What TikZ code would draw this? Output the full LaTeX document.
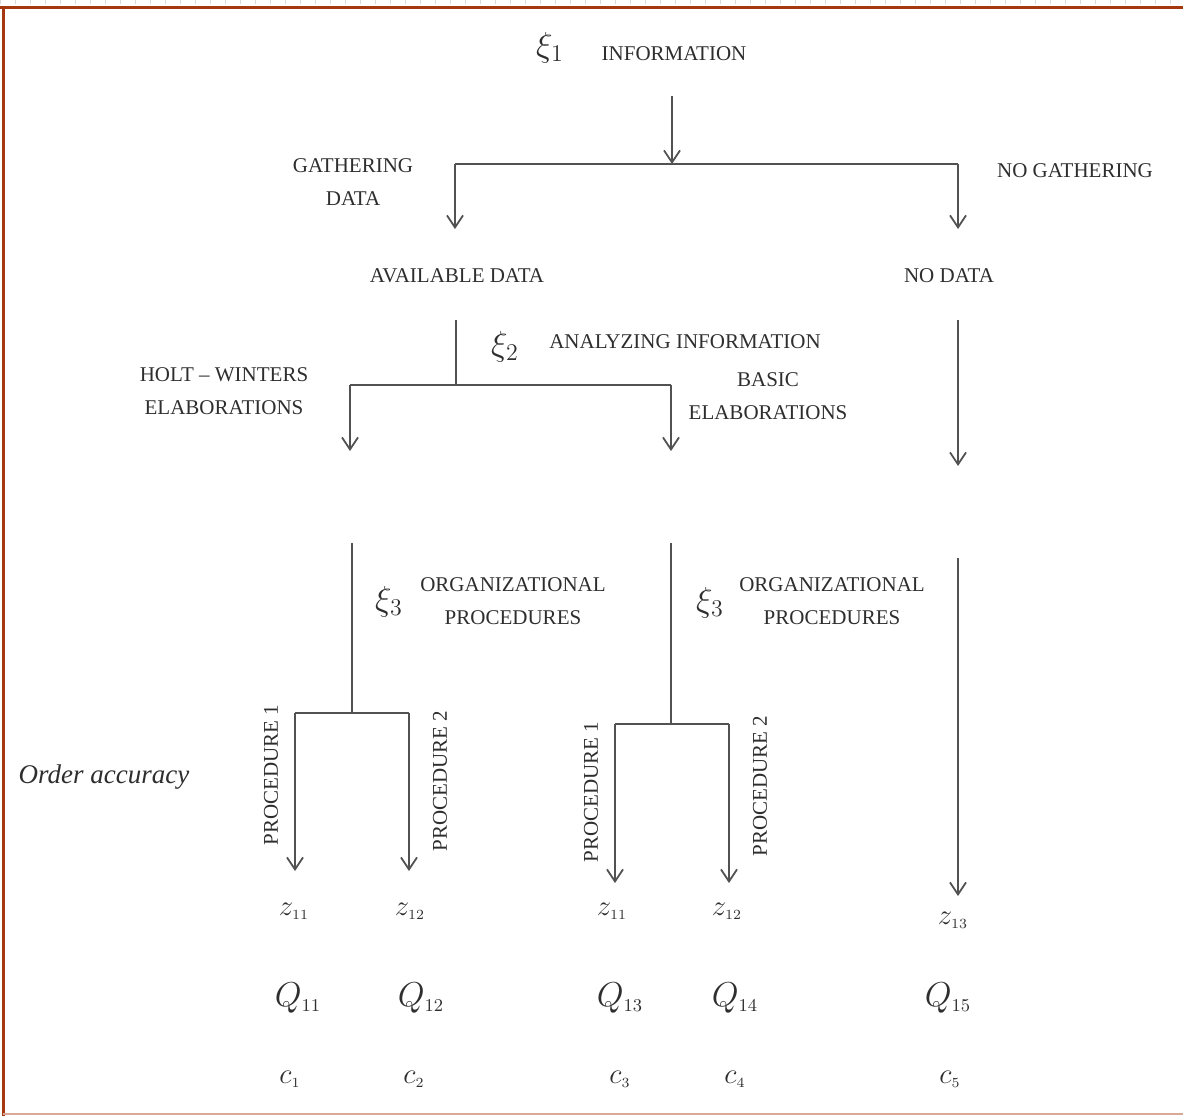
\documentclass[tikz,border=0pt]{standalone}
\usepackage{fontspec}
\setmainfont{Liberation Serif}
\usetikzlibrary{arrows.meta}
\definecolor{framecol}{HTML}{A5380F}
\definecolor{framelight}{HTML}{D9A896}
\begin{document}
\begin{tikzpicture}[x=0.5pt,y=-0.5pt,
  conn/.style={draw=black!68, line width=1pt},
  arr/.style={conn, -{Straight Barb[length=6pt,width=8pt,line width=0.9pt]}},
  lbl/.style={font=\fontsize{10.5}{16.5}\selectfont, text=black!82, align=center, inner sep=0pt},
  xilbl/.style={font=\fontsize{17}{18}\selectfont, text=black!82, inner sep=0pt},
  rotlbl/.style={lbl, rotate=90},
  zlbl/.style={font=\fontsize{15}{16}\selectfont, text=black!82, inner sep=0pt},
  qlbl/.style={font=\fontsize{19}{20}\selectfont, text=black!82, inner sep=0pt},
  clbl/.style={font=\fontsize{15}{16}\selectfont, text=black!82, inner sep=0pt},
  frame/.style={draw=framecol, line width=1.5pt}
]
\useasboundingbox (0,0) rectangle (1183,1116);
% frame
\foreach \i in {0,15,...,1183} \draw[black!15, line width=0.5pt] (\i,0) -- (\i,4);
\draw[frame] (0,7) -- (1183,7);
\draw[frame] (3,7) -- (3,1116);
\draw[draw=framelight, line width=1pt] (3,1114) -- (1183,1114);

% top
\node[xilbl] (xi1) at (550,48) {$\xi_1$};
\node[lbl] (info) at (674,54) {INFORMATION};
\coordinate (i0) at (672,96);
\coordinate (j1) at (672,164);
\coordinate (j1l) at (455,164);
\coordinate (j1r) at (958,164);
\coordinate (t1l) at (455,229);
\coordinate (t1r) at (958,229);
\draw[arr] (i0) -- (j1);
\draw[conn] (j1l) -- (j1r);
\draw[arr] (j1l) -- (t1l);
\draw[arr] (j1r) -- (t1r);
\node[lbl] (gather) at (353,182) {GATHERING\\DATA};
\node[lbl] (nogather) at (1075,171) {NO GATHERING};

\node[lbl] (avail) at (457,276) {AVAILABLE DATA};
\node[lbl] (nodata) at (949,276) {NO DATA};

% second level
\coordinate (a0) at (456,320);
\coordinate (j2) at (456,385);
\coordinate (j2l) at (350,385);
\coordinate (j2r) at (671,385);
\coordinate (t2l) at (350,451);
\coordinate (t2r) at (671,451);
\draw[conn] (a0) -- (j2);
\draw[conn] (j2l) -- (j2r);
\draw[arr] (j2l) -- (t2l);
\draw[arr] (j2r) -- (t2r);
\node[xilbl] (xi2) at (505,347) {$\xi_2$};
\node[lbl] (analyz) at (685,342) {ANALYZING INFORMATION};
\node[lbl] (holt) at (224,391) {HOLT -- WINTERS\\ELABORATIONS};
\node[lbl] (basic) at (768,396) {BASIC\\ELABORATIONS};

% no data branch
\coordinate (n0) at (958,320);
\coordinate (n1) at (958,466);
\draw[arr] (n0) -- (n1);

% left sub-tree
\coordinate (l0) at (352,543);
\coordinate (j3) at (352,713);
\coordinate (j3l) at (295,713);
\coordinate (j3r) at (409,713);
\coordinate (t3l) at (295,871);
\coordinate (t3r) at (409,871);
\draw[conn] (l0) -- (j3);
\draw[conn] (j3l) -- (j3r);
\draw[arr] (j3l) -- (t3l);
\draw[arr] (j3r) -- (t3r);
\node[xilbl] (xi3a) at (389,602) {$\xi_3$};
\node[lbl] (orga) at (513,601) {ORGANIZATIONAL\\PROCEDURES};
\node[rotlbl] (p1a) at (271,775) {PROCEDURE 1};
\node[rotlbl] (p2a) at (440,781) {PROCEDURE 2};

% middle sub-tree
\coordinate (m0) at (671,543);
\coordinate (j4) at (671,724);
\coordinate (j4l) at (615,724);
\coordinate (j4r) at (729,724);
\coordinate (t4l) at (615,883);
\coordinate (t4r) at (729,883);
\draw[conn] (m0) -- (j4);
\draw[conn] (j4l) -- (j4r);
\draw[arr] (j4l) -- (t4l);
\draw[arr] (j4r) -- (t4r);
\node[xilbl] (xi3b) at (710,603) {$\xi_3$};
\node[lbl] (orgb) at (832,601) {ORGANIZATIONAL\\PROCEDURES};
\node[rotlbl] (p1b) at (591,792) {PROCEDURE 1};
\node[rotlbl] (p2b) at (760,786) {PROCEDURE 2};

% right branch
\coordinate (r0) at (958,558);
\coordinate (r1) at (958,896);
\draw[arr] (r0) -- (r1);

\node[font=\fontsize{13.5}{15}\selectfont\itshape, text=black!82, inner sep=0pt] (order) at (104,777) {Order accuracy};

% leaves
\node[zlbl] (z1) at (294,911) {$z_{\scriptscriptstyle 11}$};
\node[zlbl] (z2) at (410,911) {$z_{\scriptscriptstyle 12}$};
\node[zlbl] (z3) at (612,911) {$z_{\scriptscriptstyle 11}$};
\node[zlbl] (z4) at (727,911) {$z_{\scriptscriptstyle 12}$};
\node[zlbl] (z5) at (953,920) {$z_{\scriptscriptstyle 13}$};

\node[qlbl] (q1) at (298,998) {$Q_{\scriptscriptstyle 11}$};
\node[qlbl] (q2) at (421,998) {$Q_{\scriptscriptstyle 12}$};
\node[qlbl] (q3) at (620,998) {$Q_{\scriptscriptstyle 13}$};
\node[qlbl] (q4) at (735,998) {$Q_{\scriptscriptstyle 14}$};
\node[qlbl] (q5) at (948,998) {$Q_{\scriptscriptstyle 15}$};

\node[clbl] (c1) at (290,1079) {$c_{\scriptscriptstyle 1}$};
\node[clbl] (c2) at (414,1079) {$c_{\scriptscriptstyle 2}$};
\node[clbl] (c3) at (620,1079) {$c_{\scriptscriptstyle 3}$};
\node[clbl] (c4) at (735,1079) {$c_{\scriptscriptstyle 4}$};
\node[clbl] (c5) at (950,1079) {$c_{\scriptscriptstyle 5}$};
\end{tikzpicture}
\end{document}
